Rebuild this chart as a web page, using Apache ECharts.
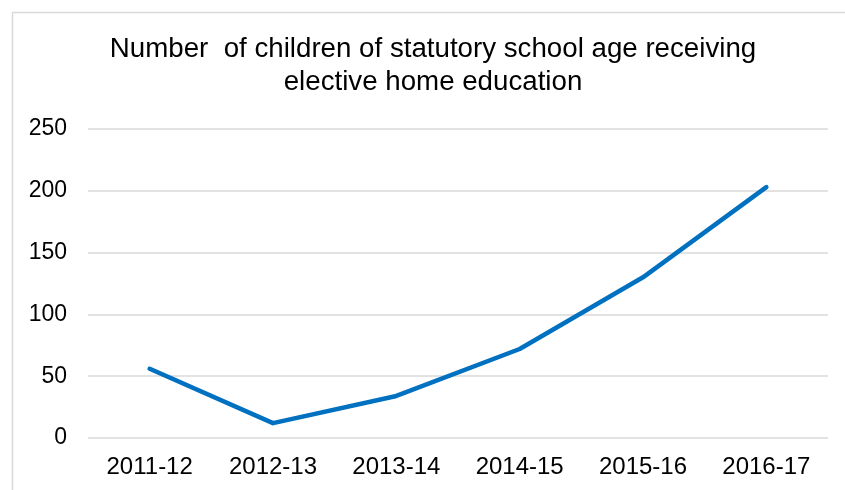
<!DOCTYPE html>
<html>
<head>
<meta charset="utf-8">
<script src="https://cdn.jsdelivr.net/npm/echarts@6/dist/echarts.min.js"></script>
<style>html,body{margin:0;padding:0;background:#fff}#c{width:845px;height:490px}</style>
</head>
<body>
<div id="c"></div>
<script>
var categories = ['2011-12', '2012-13', '2013-14', '2014-15', '2015-16', '2016-17'];
var values = [56, 12, 34, 72, 130, 203];
var titleText = 'Number  of children of statutory school age receiving\nelective home education';

var chart = echarts.init(document.getElementById('c'), null, {renderer: 'canvas'});
chart.setOption({
  animation: false,
  backgroundColor: '#ffffff',
  graphic: [{
    type: 'rect', left: 10, top: 10, shape: {width: 850, height: 500},
    style: {fill: 'none', stroke: '#d9d9d9', lineWidth: 1.5}, silent: true
  }],
  title: {
    text: titleText,
    left: 428, top: 28, textAlign: 'center',
    textStyle: {fontFamily: 'Liberation Sans', fontSize: 27.7, fontWeight: 'normal', color: '#000', lineHeight: 33}
  },
  grid: {left: 88, right: 17, top: 129, bottom: 52},
  xAxis: {
    type: 'category', data: categories, boundaryGap: true,
    axisLine: {show: false}, axisTick: {show: false},
    axisLabel: {fontFamily: 'Liberation Sans', fontSize: 24, color: '#000', margin: 17}
  },
  yAxis: {
    type: 'value', min: 0, max: 250, interval: 50,
    axisLine: {show: false}, axisTick: {show: false},
    splitLine: {lineStyle: {color: '#d9d9d9', width: 1.5}},
    axisLabel: {fontFamily: 'Liberation Sans', fontSize: 23, color: '#000', margin: 21}
  },
  series: [{
    type: 'line', data: values, symbol: 'none',
    lineStyle: {color: '#0070c0', width: 4.5, cap: 'round', join: 'round'}
  }]
});
</script>
</body>
</html>
